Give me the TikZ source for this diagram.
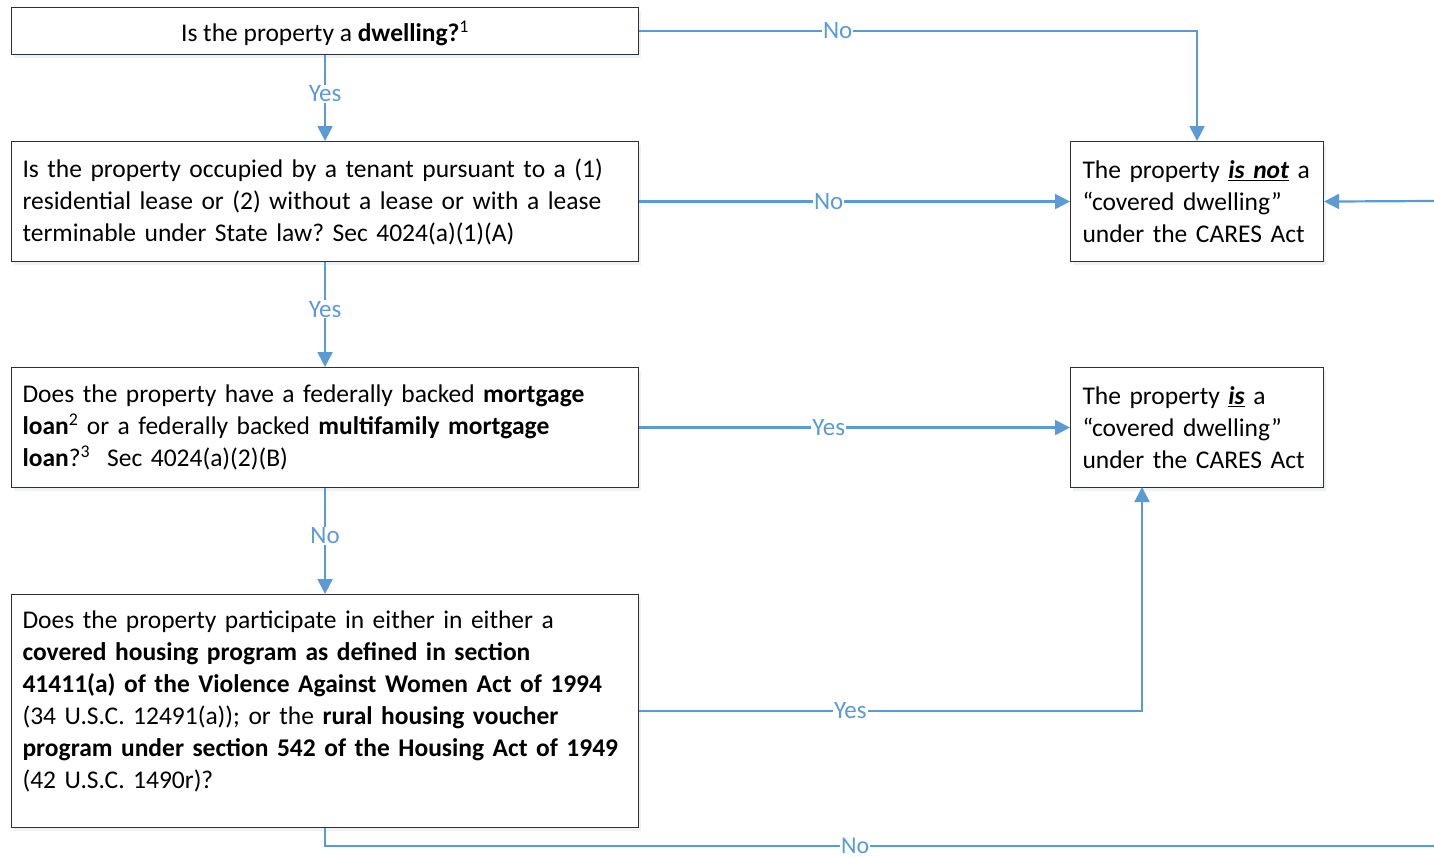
\documentclass[tikz,border=0pt]{standalone}
\usepackage{fontspec}
\setmainfont{Carlito}
\usetikzlibrary{arrows.meta,shadows}
\definecolor{flow}{HTML}{5B9BD5}
\definecolor{frame}{HTML}{303030}
\frenchspacing
\begin{document}
\begin{tikzpicture}[x=1pt,y=-1pt,
  box/.style={draw=frame, line width=1.1pt, fill=white, rectangle, inner ysep=0pt,
    font=\fontsize{25.5}{32}\selectfont\frenchspacing,
    drop shadow={opacity=0.12, shadow xshift=2pt, shadow yshift=-3pt, fill=flow!60!gray}},
  lbox/.style={box, anchor=north west, minimum width=627pt, text width=605pt, inner xsep=11pt, align=left},
  rbox/.style={box, anchor=north west, minimum width=253pt, minimum height=120pt, text width=229pt, inner xsep=12pt, align=left},
  conn/.style={draw=flow, line width=2.2pt},
  arr/.style={conn, -{Triangle[length=15pt,width=15pt]}},
  lab/.style={fill=white, text=flow, inner sep=1pt, font=\fontsize{25}{28}\selectfont}]
\useasboundingbox (0,0) rectangle (1434,857);

\node[box, anchor=north west, minimum width=627pt, minimum height=47pt, text height=26pt, text depth=6pt] (q1) at (11,7)
  {Is the property a \textbf{dwelling?}\textsuperscript{1}};

\node[lbox, minimum height=120pt] (q2) at (11,141)
  {Is the property occupied by a tenant pursuant to a (1)\\
   residential lease or (2) without a lease or with a lease\\
   terminable under State law? Sec 4024(a)(1)(A)};

\node[lbox, minimum height=120pt] (q3) at (11,367)
  {Does the property have a federally backed \textbf{mortgage}\\
   \textbf{loan}\textsuperscript{2} or a federally backed \textbf{multifamily mortgage}\\
   \textbf{loan}?\textsuperscript{3}\ \ Sec 4024(a)(2)(B)};

\node[lbox, minimum height=233pt] (q4) at (11,594)
  {Does the property participate in either in either a\\
   \textbf{covered housing program as defined in section}\\
   \textbf{41411(a) of the Violence Against Women Act of 1994}\\
   (34 U.S.C. 12491(a)); or the \textbf{rural housing voucher}\\
   \mbox{\textbf{program under section 542 of the Housing Act of 1949}}\\
   (42 U.S.C. 1490r)?\par\kern19pt};

\node[rbox] (r1) at (1070,141)
  {The property \underline{\textbf{\textit{is not}}} a\\
   “covered dwelling”\\
   under the CARES Act};

\node[rbox] (r2) at (1070,367)
  {The property \underline{\textbf{\textit{is}}} a\\
   “covered dwelling”\\
   under the CARES Act};

\coordinate (e1) at (1434,846);
\coordinate (e2) at (1434,201);
\coordinate (u2) at (1142,487);

\draw[arr] (q1.east) -| node[lab, pos=0.178] {No} (r1.north);
\draw[arr] (q1.south) -- node[lab, pos=0.45] {Yes} (q2.north);
\draw[arr] (q2.east) -- node[lab, pos=0.44] {No} (r1.west);
\draw[arr] (q2.south) -- node[lab, pos=0.45] {Yes} (q3.north);
\draw[arr] (q3.east) -- node[lab, pos=0.44] {Yes} (r2.west);
\draw[arr] (q3.south) -- node[lab, pos=0.45] {No} (q4.north);
\draw[arr] (q4.east) -| node[lab, pos=0.21] {Yes} (u2);
\draw[conn] (q4.south) |- node[lab, inner ysep=0pt, font=\fontsize{24}{26}\selectfont, pos=0.739] {No} (e1);
\draw[arr] (e2) -- (r1.east);
\end{tikzpicture}
\end{document}
